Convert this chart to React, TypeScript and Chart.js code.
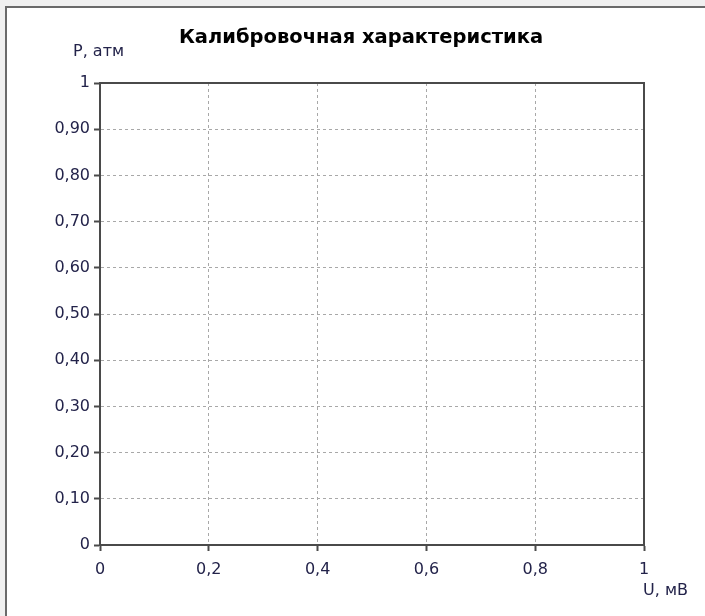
import React, { useEffect, useRef } from 'react';
import { Chart, registerables } from 'chart.js';

Chart.register(...registerables);

const TITLE = 'Калибровочная характеристика';
const X_LABEL = 'U, мВ';
const Y_LABEL = 'P, атм';
const X_TICKS = [0, 0.2, 0.4, 0.6, 0.8, 1];
const X_TICK_LABELS = ['0', '0,2', '0,4', '0,6', '0,8', '1'];
const Y_TICKS = [0, 0.1, 0.2, 0.3, 0.4, 0.5, 0.6, 0.7, 0.8, 0.9, 1];
const Y_TICK_LABELS = ['0', '0,10', '0,20', '0,30', '0,40', '0,50', '0,60', '0,70', '0,80', '0,90', '1'];
// The calibration series is empty in the reference picture
const U_VALUES: number[] = [];
const P_VALUES: number[] = [];

const FONT = '"DejaVu Sans", sans-serif';
const LABEL_COLOR = '#23234a';
const AXIS_COLOR = '#4a4a4a';

const decorPlugin = {
  id: 'decor',
  afterDraw(chart: any) {
    const { ctx, chartArea } = chart;
    ctx.save();
    ctx.strokeStyle = AXIS_COLOR;
    ctx.lineWidth = 2;
    ctx.setLineDash([]);
    ctx.beginPath();
    ctx.moveTo(chartArea.left, chartArea.top);
    ctx.lineTo(chartArea.right, chartArea.top);
    ctx.lineTo(chartArea.right, chartArea.bottom);
    ctx.stroke();

    ctx.fillStyle = '#000000';
    ctx.font = 'bold 19.5px ' + FONT;
    ctx.textAlign = 'center';
    ctx.textBaseline = 'alphabetic';
    ctx.fillText(TITLE, 361, 43);

    ctx.fillStyle = LABEL_COLOR;
    ctx.font = '16px ' + FONT;
    ctx.textAlign = 'left';
    ctx.fillText(Y_LABEL, 73, 56);
    ctx.fillText(X_LABEL, chartArea.right - 1, 595);
    ctx.restore();
  },
};

export default function App() {
  const ref = useRef<HTMLCanvasElement | null>(null);

  useEffect(() => {
    if (!ref.current) return;
    const chart = new Chart(ref.current, {
      type: 'scatter',
      data: {
        datasets: [
          {
            label: TITLE,
            data: U_VALUES.map((u, i) => ({ x: u, y: P_VALUES[i] })),
            borderColor: '#0000ff',
            backgroundColor: '#0000ff',
          },
        ],
      },
      options: {
        responsive: false,
        animation: false,
        devicePixelRatio: 1,
        layout: { padding: { top: 83, right: 61, left: 0, bottom: 0 } },
        plugins: { legend: { display: false }, title: { display: false }, tooltip: { enabled: false } },
        scales: {
          x: {
            type: 'linear',
            min: 0,
            max: 1,
            afterBuildTicks: (s: any) => {
              s.ticks = X_TICKS.map((v) => ({ value: v }));
            },
            afterFit: (s: any) => {
              s.height = 71;
            },
            ticks: {
              autoSkip: false,
              maxRotation: 0,
              padding: 9,
              color: LABEL_COLOR,
              font: { family: FONT, size: 16 },
              callback: (_v: any, i: number) => X_TICK_LABELS[i],
            },
            grid: {
              color: '#a8a8a8',
              lineWidth: 1,
              tickColor: AXIS_COLOR,
              tickLength: 6,
              tickWidth: 2,
            },
            border: { color: AXIS_COLOR, width: 2, dash: [3, 3] },
          },
          y: {
            type: 'linear',
            min: 0,
            max: 1,
            afterBuildTicks: (s: any) => {
              s.ticks = Y_TICKS.map((v) => ({ value: v }));
            },
            afterFit: (s: any) => {
              s.width = 100;
            },
            ticks: {
              autoSkip: false,
              padding: 4,
              color: LABEL_COLOR,
              font: { family: FONT, size: 16 },
              callback: (_v: any, i: number) => Y_TICK_LABELS[i],
            },
            grid: {
              color: '#a8a8a8',
              lineWidth: 1,
              tickColor: AXIS_COLOR,
              tickLength: 6,
              tickWidth: 2,
            },
            border: { color: AXIS_COLOR, width: 2, dash: [3, 3] },
          },
        },
      },
      plugins: [decorPlugin],
    } as any);
    return () => chart.destroy();
  }, []);

  return (
    <div
      style={{
        position: 'fixed',
        left: 0,
        top: 0,
        width: 705,
        height: 616,
        background: '#f0f0f0',
        overflow: 'hidden',
      }}
    >
      <div
        style={{
          position: 'absolute',
          left: 5,
          top: 6,
          width: 800,
          height: 800,
          background: '#ffffff',
          borderLeft: '2px solid #6a6a6a',
          borderTop: '2px solid #6a6a6a',
        }}
      />
      <canvas
        ref={ref}
        width={705}
        height={616}
        style={{ position: 'absolute', left: 0, top: 0, width: 705, height: 616 }}
      />
    </div>
  );
}
